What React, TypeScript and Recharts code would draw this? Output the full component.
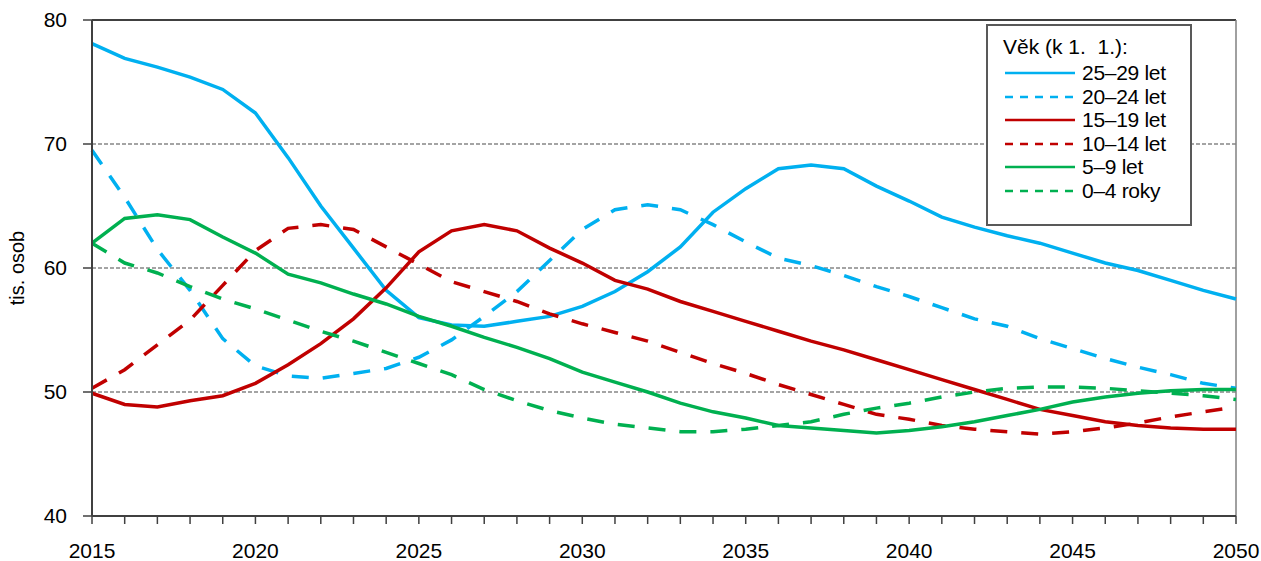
import {
  LineChart,
  Line,
  XAxis,
  YAxis,
  CartesianGrid,
  ReferenceLine,
} from 'recharts'

const years = [
  2015, 2016, 2017, 2018, 2019, 2020, 2021, 2022, 2023, 2024,
  2025, 2026, 2027, 2028, 2029, 2030, 2031, 2032, 2033, 2034,
  2035, 2036, 2037, 2038, 2039, 2040, 2041, 2042, 2043, 2044,
  2045, 2046, 2047, 2048, 2049, 2050,
]

const age25to29 = [
  78.1, 76.9, 76.2, 75.4, 74.4, 72.5, 68.9, 65.0, 61.6, 58.2,
  56.0, 55.4, 55.3, 55.7, 56.1, 56.9, 58.1, 59.7, 61.7, 64.5,
  66.4, 68.0, 68.3, 68.0, 66.6, 65.4, 64.1, 63.3, 62.6, 62.0,
  61.2, 60.4, 59.8, 59.0, 58.2, 57.5,
]

const age20to24 = [
  69.5, 65.7, 61.5, 58.2, 54.3, 52.1, 51.3, 51.1, 51.5, 51.9,
  52.8, 54.2, 56.1, 58.1, 60.6, 63.1, 64.7, 65.1, 64.7, 63.5,
  62.1, 60.8, 60.2, 59.4, 58.5, 57.7, 56.8, 55.9, 55.3, 54.3,
  53.5, 52.7, 52.0, 51.4, 50.7, 50.3,
]

const age15to19 = [
  49.9, 49.0, 48.8, 49.3, 49.7, 50.7, 52.2, 53.9, 55.9, 58.4,
  61.3, 63.0, 63.5, 63.0, 61.6, 60.4, 59.0, 58.3, 57.3, 56.5,
  55.7, 54.9, 54.1, 53.4, 52.6, 51.8, 51.0, 50.2, 49.4, 48.6,
  48.1, 47.6, 47.3, 47.1, 47.0, 47.0,
]

const age10to14 = [
  50.3, 51.8, 53.8, 55.8, 58.6, 61.4, 63.2, 63.5, 63.1, 61.7,
  60.3, 58.9, 58.1, 57.3, 56.3, 55.5, 54.8, 54.1, 53.2, 52.3,
  51.5, 50.6, 49.8, 49.0, 48.2, 47.8, 47.3, 47.0, 46.8, 46.6,
  46.8, 47.1, 47.5, 48.0, 48.4, 48.8,
]

const age5to9 = [
  62.0, 64.0, 64.3, 63.9, 62.5, 61.2, 59.5, 58.8, 57.9, 57.1,
  56.1, 55.3, 54.4, 53.6, 52.7, 51.6, 50.8, 50.0, 49.1, 48.4,
  47.9, 47.3, 47.1, 46.9, 46.7, 46.9, 47.2, 47.6, 48.1, 48.6,
  49.2, 49.6, 49.9, 50.1, 50.2, 50.2,
]

const age0to4 = [
  62.0, 60.4, 59.6, 58.5, 57.5, 56.7, 55.8, 54.9, 54.1, 53.2,
  52.3, 51.4, 50.2, 49.3, 48.5, 47.9, 47.4, 47.1, 46.8, 46.8,
  47.0, 47.3, 47.6, 48.2, 48.7, 49.1, 49.6, 50.0, 50.3, 50.4,
  50.4, 50.3, 50.1, 49.9, 49.7, 49.4,
]

const yTicks = [40, 50, 60, 70, 80]
const gridValues = [50, 60, 70]

const data = years.map((year, i) => ({
  year,
  a25: age25to29[i],
  a20: age20to24[i],
  a15: age15to19[i],
  a10: age10to14[i],
  a5: age5to9[i],
  a0: age0to4[i],
}))

const series = [
  { key: 'a25', name: '25–29 let', color: '#00b0f0', dashed: false },
  { key: 'a20', name: '20–24 let', color: '#00b0f0', dashed: true },
  { key: 'a15', name: '15–19 let', color: '#c00000', dashed: false },
  { key: 'a10', name: '10–14 let', color: '#c00000', dashed: true },
  { key: 'a5', name: '5–9 let', color: '#00b050', dashed: false },
  { key: 'a0', name: '0–4 roky', color: '#00b050', dashed: true },
]

const font = '"Liberation Sans", Arial, sans-serif'

function LegendBox() {
  return (
    <div
      style={{
        position: 'absolute',
        left: 986,
        top: 24,
        width: 202,
        height: 198,
        border: '2px solid #595959',
        background: '#fff',
        fontFamily: font,
        fontSize: 21,
        lineHeight: '24px',
        color: '#000',
      }}
    >
      <div style={{ position: 'absolute', left: 15, top: 9, whiteSpace: 'pre' }}>
        {'Věk (k 1.  1.):'}
      </div>
      {series.map((s, i) => (
        <div
          key={s.key}
          style={{
            position: 'absolute',
            left: 17,
            top: 35 + i * 23.5,
            height: 24,
            display: 'flex',
            alignItems: 'center',
            whiteSpace: 'nowrap',
          }}
        >
          <svg width={70} height={6} style={{ marginRight: 7 }}>
            <line
              x1={0}
              y1={3}
              x2={70}
              y2={3}
              stroke={s.color}
              strokeWidth={2.5}
              strokeDasharray={s.dashed ? '8 7' : undefined}
            />
          </svg>
          <span style={{ letterSpacing: -0.3 }}>{s.name}</span>
        </div>
      ))}
    </div>
  )
}

function YLabel() {
  return (
    <text
      x={17}
      y={268}
      transform="rotate(-90 17 268)"
      textAnchor="middle"
      dominantBaseline="central"
      fontFamily={font}
      fontSize={20}
      fill="#000"
    >
      tis. osob
    </text>
  )
}

export default function App() {
  return (
    <div style={{ position: 'absolute', left: 0, top: 0, width: 1261, height: 561, background: '#fff' }}>
      <LineChart
        width={1261}
        height={561}
        data={data}
        margin={{ top: 20, right: 25, bottom: 15, left: 32 }}
      >
        <CartesianGrid
          vertical={false}
          horizontalValues={gridValues}
          stroke="#868686"
          strokeDasharray="4 2"
          strokeWidth={1.5}
        />
        <XAxis
          dataKey="year"
          type="number"
          domain={[2015, 2050]}
          ticks={years}
          interval={0}
          height={30}
          tickFormatter={(v: number) => (v % 5 === 0 ? String(v) : '')}
          tick={{ fontFamily: font, fontSize: 21, fill: '#000' }}
          tickSize={8}
          tickMargin={19}
          axisLine={{ stroke: '#404040', strokeWidth: 2 }}
          tickLine={{ stroke: '#404040', strokeWidth: 1.5 }}
        />
        <YAxis
          type="number"
          domain={[40, 80]}
          ticks={yTicks}
          interval={0}
          width={60}
          tick={{ fontFamily: font, fontSize: 21, fill: '#000' }}
          tickSize={9}
          tickMargin={16}
          axisLine={{ stroke: '#404040', strokeWidth: 2 }}
          tickLine={{ stroke: '#404040', strokeWidth: 1.5 }}
          label={<YLabel />}
        />
        <ReferenceLine y={80} stroke="#404040" strokeWidth={2} />
        <ReferenceLine x={2050} stroke="#808080" strokeWidth={1.5} />
        {series.map((s) => (
          <Line
            key={s.key}
            type="linear"
            dataKey={s.key}
            name={s.name}
            stroke={s.color}
            strokeWidth={3.5}
            strokeDasharray={s.dashed ? '17 14' : undefined}
            dot={false}
            activeDot={false}
            isAnimationActive={false}
          />
        ))}
      </LineChart>
      <LegendBox />
    </div>
  )
}
